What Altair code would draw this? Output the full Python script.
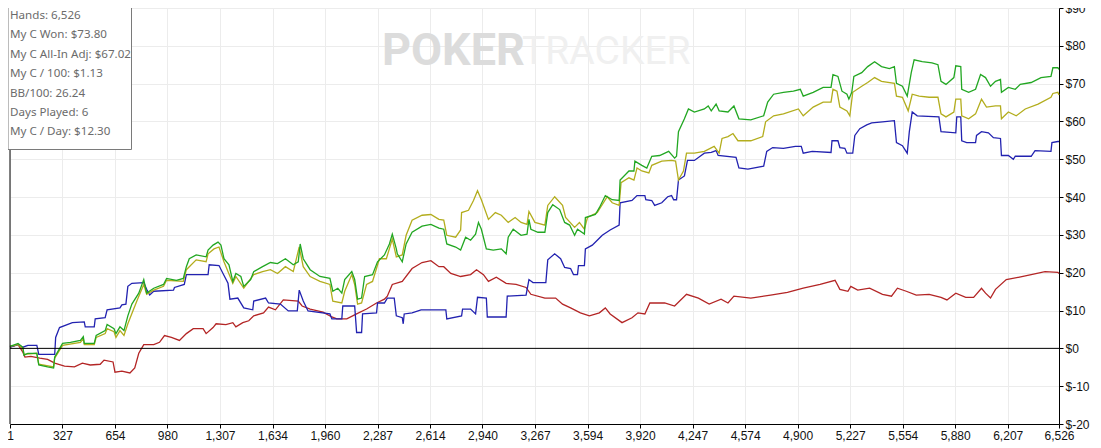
import altair as alt
import pandas as pd

# ---------------- data (hands played, cumulative $) ----------------
x_ticks = [1, 327, 654, 980, 1307, 1634, 1960, 2287, 2614, 2940, 3267,
           3594, 3920, 4247, 4574, 4900, 5227, 5554, 5880, 6207, 6526]
y_ticks = [-20, -10, 0, 10, 20, 30, 40, 50, 60, 70, 80, 90]

stats_lines = ["Hands: 6,526", "My C Won: $73.80", "My C All-In Adj: $67.02",
               "My C / 100: $1.13", "BB/100: 26.24", "Days Played: 6",
               "My C / Day: $12.30"]

won = [(1,0.5),(51,1.3),(81,0.3),(88,-1.8),(112,-1.3),(168,-1.3),(180,-4.4),(235,-4.9),(272,-5.2),(279,-2.3),
       (328,1.3),(377,1.6),(439,2.1),(457,3.1),(463,1.3),(525,1.3),(537,3.4),(593,4.7),(605,6.3),(648,5.2),
       (660,3.9),(685,5.7),(710,4.7),(734,8.6),(759,11.7),(802,14.6),(833,18.2),(851,14.6),(895,15.9),(956,16.9),
       (975,18.5),(1036,18.0),(1079,18.5),(1098,21.6),(1116,23.7),(1159,24.7),(1221,24.2),(1233,26.0),(1264,27.3),(1295,28.1),
       (1313,27.3),(1332,23.7),(1363,22.1),(1387,17.7),(1406,19.8),(1437,19.0),(1455,16.4),(1498,18.2),(1517,20.3),(1572,21.6),
       (1621,22.7),(1665,22.4),(1714,23.7),(1763,22.1),(1794,22.9),(1806,27.6),(1825,23.7),(1868,20.8),(1929,19.0),(1991,18.5),
       (2009,15.1),(2040,15.9),(2065,14.6),(2083,18.2),(2127,20.3),(2145,18.2),(2163,13.0),(2188,13.3),(2207,19.0),(2256,19.5),
       (2287,22.9),(2330,24.7),(2361,27.6),(2379,30.2),(2404,26.3),(2410,25.0),(2441,22.9),(2465,27.6),(2502,30.7),(2564,32.3),
       (2619,32.8),(2669,31.8),(2699,31.5),(2718,27.6),(2773,26.8),(2804,26.0),(2835,29.4),(2866,28.6),(2897,30.2),(2915,33.3),
       (2933,31.5),(2964,26.3),(3007,26.0),(3057,26.3),(3087,25.0),(3100,29.4),(3131,31.5),(3180,29.9),(3217,30.2),(3229,34.1),
       (3241,31.5),(3285,30.7),(3328,30.7),(3346,35.9),(3377,38.0),(3420,36.7),(3451,33.3),(3482,32.6),(3513,29.9),(3531,31.5),
       (3574,30.2),(3580,34.6),(3642,35.4),(3667,37.2),(3704,40.4),(3747,39.3),(3790,39.1),(3796,44.5),(3851,46.9),(3882,46.9),
       (3888,49.5),(3931,48.4),(3962,47.7),(3993,50.8),(4042,51.0),(4098,52.1),(4135,50.3),(4147,50.8),(4159,57.3),(4196,60.7),
       (4221,63.3),(4258,62.5),(4320,63.3),(4344,64.1),(4363,62.8),(4393,64.6),(4412,62.8),(4467,62.5),(4504,64.1),(4535,60.7),
       (4609,60.4),(4689,61.5),(4714,65.1),(4751,67.2),(4812,67.7),(4874,68.0),(4917,68.5),(4935,66.7),(4997,67.7),(5059,69.0),
       (5108,69.0),(5120,72.4),(5151,71.9),(5176,68.0),(5207,67.2),(5219,65.9),(5237,67.7),(5250,71.9),(5299,72.9),(5336,74.5),
       (5379,75.8),(5422,74.5),(5471,74.0),(5502,74.5),(5515,70.1),(5552,69.3),(5582,66.7),(5607,72.9),(5625,76.3),(5675,75.8),
       (5736,75.5),(5773,75.0),(5792,70.6),(5823,69.8),(5872,71.6),(5884,74.7),(5915,74.5),(5921,68.5),(5964,67.7),(6007,68.5),
       (6038,72.4),(6069,71.6),(6100,69.3),(6131,70.6),(6162,71.1),(6168,67.7),(6211,69.0),(6254,68.5),(6285,69.8),(6353,70.3),
       (6414,71.6),(6476,71.9),(6488,74.2),(6519,74.2),(6526,73.8)]

allin_adj = [(1,0.5),(51,1.0),(81,0.0),(88,-1.6),(168,-1.3),(180,-4.2),(272,-4.9),(279,-2.6),(328,0.8),(439,1.6),
       (457,2.6),(463,1.0),(525,1.0),(537,2.9),(593,3.9),(605,5.2),(648,4.4),(660,2.9),(685,4.7),(710,3.4),
       (734,6.5),(790,12.5),(833,16.9),(851,14.3),(895,15.4),(956,16.4),(975,18.0),(1079,17.7),(1098,20.8),(1159,23.4),
       (1221,22.9),(1233,25.0),(1270,26.3),(1301,26.8),(1332,22.9),(1387,17.2),(1406,19.0),(1455,15.9),(1517,19.5),(1572,20.3),
       (1621,20.8),(1665,19.8),(1714,21.6),(1763,20.3),(1800,26.8),(1825,21.6),(1868,19.0),(1929,17.7),(1991,16.9),(2009,12.5),
       (2065,12.0),(2083,15.1),(2127,19.5),(2145,16.9),(2163,11.7),(2188,12.0),(2219,16.9),(2256,17.7),(2299,23.7),(2342,23.7),
       (2379,28.9),(2404,24.2),(2441,24.7),(2465,29.9),(2502,33.9),(2564,35.2),(2619,35.4),(2669,34.1),(2699,33.9),(2718,29.9),
       (2773,29.4),(2804,31.3),(2810,35.9),(2853,36.5),(2884,39.1),(2909,41.7),(2933,39.3),(2977,34.1),(3020,35.9),(3057,35.2),
       (3100,33.3),(3143,34.6),(3180,33.3),(3217,32.8),(3229,36.2),(3266,33.3),(3328,32.6),(3346,37.8),(3389,40.1),(3438,37.8),
       (3457,34.6),(3513,32.0),(3543,33.3),(3574,31.5),(3593,34.6),(3654,35.9),(3716,40.1),(3747,38.5),(3790,37.8),(3802,43.8),
       (3851,45.1),(3882,44.5),(3901,47.7),(3931,46.9),(3975,46.4),(3993,48.4),(4055,49.5),(4116,49.7),(4141,49.5),(4159,44.5),
       (4190,46.9),(4209,51.6),(4258,51.6),(4320,52.1),(4381,53.4),(4412,51.6),(4430,55.5),(4467,56.0),(4498,56.8),(4529,54.9),
       (4609,54.9),(4683,56.0),(4701,59.9),(4751,61.5),(4812,62.0),(4905,63.3),(4935,61.5),(4997,63.8),(5059,65.1),(5108,65.1),
       (5120,68.5),(5145,68.0),(5163,63.8),(5207,62.8),(5225,61.5),(5243,67.7),(5299,69.3),(5336,70.3),(5379,71.6),(5422,70.6),
       (5502,70.1),(5515,66.7),(5552,66.4),(5588,62.8),(5613,67.2),(5656,66.7),(5718,66.4),(5773,66.4),(5792,62.0),(5823,61.2),
       (5872,62.5),(5884,65.9),(5915,65.9),(5921,61.5),(5964,60.7),(6007,62.0),(6044,65.9),(6075,63.8),(6131,64.1),(6162,64.1),
       (6168,60.7),(6211,62.5),(6260,61.5),(6316,63.3),(6396,64.6),(6476,66.4),(6488,67.4),(6519,67.7),(6526,67.0)]

blue = [(1,0.3),(51,1.0),(81,0.3),(112,0.8),(168,0.8),(180,-1.6),(279,-1.6),(285,2.9),(309,5.5),(389,6.8),
       (463,7.0),(469,5.7),(525,5.7),(531,7.8),(593,8.1),(605,10.2),(685,10.7),(697,11.5),(722,11.7),(734,16.4),
       (759,17.2),(833,17.4),(851,15.6),(870,14.1),(895,15.1),(1018,15.4),(1024,16.1),(1085,16.9),(1098,19.5),(1233,19.5),
       (1240,22.1),(1301,21.9),(1326,19.8),(1357,17.2),(1369,13.0),(1418,13.3),(1455,10.7),(1511,10.2),(1517,12.5),(1591,13.3),
       (1609,12.0),(1683,11.7),(1732,9.9),(1788,9.9),(1800,15.4),(1825,12.5),(1855,9.9),(1991,9.1),(2003,7.8),(2065,7.8),
       (2071,11.2),(2145,11.2),(2157,4.2),(2188,4.2),(2194,9.1),(2281,9.4),(2287,12.0),(2330,12.0),(2348,13.3),(2391,13.3),
       (2404,8.6),(2441,8.1),(2447,6.5),(2453,9.1),(2502,9.4),(2558,10.2),(2712,10.2),(2718,7.8),(2810,8.6),(2816,10.4),
       (2866,10.4),(2897,9.1),(2909,13.5),(2964,13.3),(2970,8.3),(3087,8.3),(3094,13.8),(3211,14.1),(3229,18.2),(3254,17.4),
       (3334,17.4),(3346,23.4),(3389,25.0),(3426,23.7),(3451,21.4),(3488,21.1),(3506,19.5),(3531,19.5),(3537,21.9),(3574,21.9),
       (3580,26.3),(3623,27.3),(3654,28.6),(3685,29.9),(3734,31.3),(3790,32.6),(3796,38.5),(3870,39.1),(3901,40.4),(3950,40.4),
       (3956,39.3),(3993,39.1),(4011,37.8),(4055,38.5),(4092,40.1),(4116,40.4),(4129,39.3),(4147,39.3),(4159,44.5),(4196,45.6),
       (4215,49.7),(4258,49.7),(4320,51.6),(4363,51.8),(4393,52.3),(4406,51.0),(4517,50.5),(4535,47.7),(4591,47.4),(4689,48.2),
       (4708,52.1),(4745,53.1),(4812,52.9),(4886,53.4),(4923,53.4),(4935,51.6),(4991,52.1),(5108,51.8),(5114,54.9),(5151,54.9),
       (5163,53.1),(5194,52.9),(5207,51.6),(5243,51.6),(5256,56.3),(5287,58.1),(5330,59.1),(5361,59.6),(5428,59.9),(5502,60.2),
       (5515,54.4),(5552,53.6),(5582,51.6),(5595,57.3),(5613,62.5),(5644,61.5),(5779,61.2),(5792,57.3),(5884,57.0),(5890,61.2),
       (5915,61.2),(5921,54.9),(5952,54.4),(6007,54.4),(6013,56.3),(6044,57.3),(6087,57.0),(6118,55.7),(6162,55.5),(6168,51.0),
       (6211,51.0),(6242,50.0),(6254,50.8),(6353,50.8),(6377,52.3),(6476,52.1),(6482,54.4),(6519,54.7),(6526,54.7)]

red = [(1,0.3),(51,1.0),(81,-1.0),(94,-2.3),(131,-2.1),(186,-2.6),(235,-2.9),(279,-3.9),(340,-4.7),(402,-4.9),
       (451,-3.9),(500,-4.4),(562,-4.2),(586,-3.1),(642,-3.6),(654,-6.3),(697,-6.0),(747,-6.5),(777,-5.2),(802,-1.3),
       (833,1.0),(895,1.0),(931,1.6),(962,3.4),(1005,2.9),(1055,2.1),(1098,3.9),(1141,5.2),(1202,5.2),(1221,3.9),
       (1264,5.5),(1283,6.5),(1344,6.3),(1387,6.8),(1406,5.7),(1449,6.8),(1486,7.3),(1517,8.6),(1578,9.4),(1609,10.9),
       (1652,10.2),(1701,12.8),(1794,12.5),(1818,11.2),(1868,10.4),(1948,9.6),(2003,8.3),(2034,7.8),(2096,7.8),(2157,9.1),
       (2219,10.4),(2281,12.0),(2330,13.0),(2348,13.8),(2379,16.9),(2441,17.7),(2502,21.1),(2564,22.7),(2619,23.2),(2669,21.6),
       (2699,21.6),(2743,19.8),(2804,19.0),(2866,19.5),(2903,20.8),(2946,19.5),(2977,17.7),(3026,18.8),(3087,17.2),(3149,16.9),
       (3211,16.1),(3241,14.3),(3328,13.3),(3395,13.3),(3438,11.7),(3488,10.7),(3549,9.4),(3605,8.6),(3667,9.4),(3704,10.7),
       (3734,9.1),(3808,6.8),(3870,8.1),(3907,9.4),(3950,9.1),(3981,12.0),(4073,12.0),(4135,11.2),(4209,14.3),(4283,13.3),
       (4350,11.7),(4424,13.0),(4467,12.0),(4504,13.8),(4609,13.3),(4732,14.1),(4837,14.8),(4935,15.9),(5040,16.9),(5133,18.0),
       (5163,15.6),(5213,15.1),(5231,16.4),(5274,15.4),(5348,15.9),(5428,14.3),(5484,13.8),(5521,15.9),(5576,15.1),(5638,14.1),
       (5718,14.3),(5792,13.5),(5829,12.8),(5884,14.6),(5946,13.5),(5995,13.5),(6044,15.9),(6069,14.6),(6100,13.3),(6131,15.6),
       (6198,18.2),(6273,18.8),(6353,19.5),(6439,20.3),(6519,20.1),(6526,19.8)]

series = [("Red", red, "#b32525"), ("Blue", blue, "#2222b0"),
          ("All-In Adj", allin_adj, "#b3ad1d"), ("Won", won, "#22a722")]

rows = []
for order, (name, pts, _c) in enumerate(series):
    for i, (h, v) in enumerate(pts):
        rows.append({"series": name, "hands": h, "value": v, "idx": i, "ord": order})
df = pd.DataFrame(rows)

W, H = 1049, 416
FONT = "Liberation Sans"

x_scale = alt.Scale(domain=[1, 6526], nice=False, zero=False)
y_scale = alt.Scale(domain=[-20, 90], nice=False, zero=False)

x_axis = alt.Axis(values=x_ticks, format=",d", title=None, grid=True,
                  gridColor="#ececec", tickColor="#000", domainColor="#000",
                  tickSize=4, labelFlush=False, labelOverlap=False,
                  labelFont=FONT, labelFontSize=12, labelColor="#111",
                  labelPadding=2)
y_axis = alt.Axis(values=y_ticks, orient="right", title=None, grid=True,
                  gridColor="#ececec", tickColor="#000", domainColor="#000",
                  tickSize=4, labelExpr="'$' + datum.value",
                  labelFont=FONT, labelFontSize=12, labelColor="#111",
                  labelPadding=2, labelOverlap=False, labelFlush=False)

lines = alt.Chart(df).mark_line(strokeWidth=1.3, interpolate="linear").encode(
    x=alt.X("hands:Q", scale=x_scale, axis=x_axis),
    y=alt.Y("value:Q", scale=y_scale, axis=y_axis),
    color=alt.Color("series:N",
                    scale=alt.Scale(domain=[s[0] for s in series],
                                    range=[s[2] for s in series]),
                    legend=None),
    detail="ord:O",
    order="idx:Q",
)

zero = alt.Chart(pd.DataFrame({"value": [0]})).mark_rule(color="#000", strokeWidth=1).encode(
    y=alt.Y("value:Q", scale=y_scale, axis=y_axis))

left_edge = alt.Chart(pd.DataFrame({"v": [0]})).mark_rule(color="#000", strokeWidth=1).encode(
    x=alt.value(0), y=alt.value(0), y2=alt.value(H))

one = pd.DataFrame({"a": [0]})
wm1 = alt.Chart(one).mark_text(text="POKER", font="Roboto", fontSize=45, fontWeight="bold",
                               color="#dcdcdc", align="left", baseline="alphabetic").encode(
    x=alt.value(372), y=alt.value(57))
wm2 = alt.Chart(one).mark_text(text="TRACKER", font="Roboto", fontSize=39, fontWeight="normal",
                               color="#f0f0f0", align="left", baseline="alphabetic").encode(
    x=alt.value(512), y=alt.value(56))

box = alt.Chart(one).mark_rect(fill="white", stroke="#7a7a7a", strokeWidth=1).encode(
    x=alt.value(-2), x2=alt.value(121.5), y=alt.value(-2), y2=alt.value(141.5))
stats = alt.Chart(one).mark_text(text=stats_lines, font="Noto Sans", fontSize=11.6,
                                 color="#6b6b6b", align="left", baseline="middle",
                                 lineHeight=19.4).encode(
    x=alt.value(0), y=alt.value(8))

chart = alt.layer(wm1, wm2, lines, zero, left_edge, box, stats).properties(
    width=W, height=H, background="white",
    autosize=alt.AutoSizeParams(type="none"),
    padding={"left": 2, "top": 0, "right": 34, "bottom": 23},
).configure_view(strokeWidth=0)

chart.save("out.html", embed_options={"renderer": "svg", "actions": False})
